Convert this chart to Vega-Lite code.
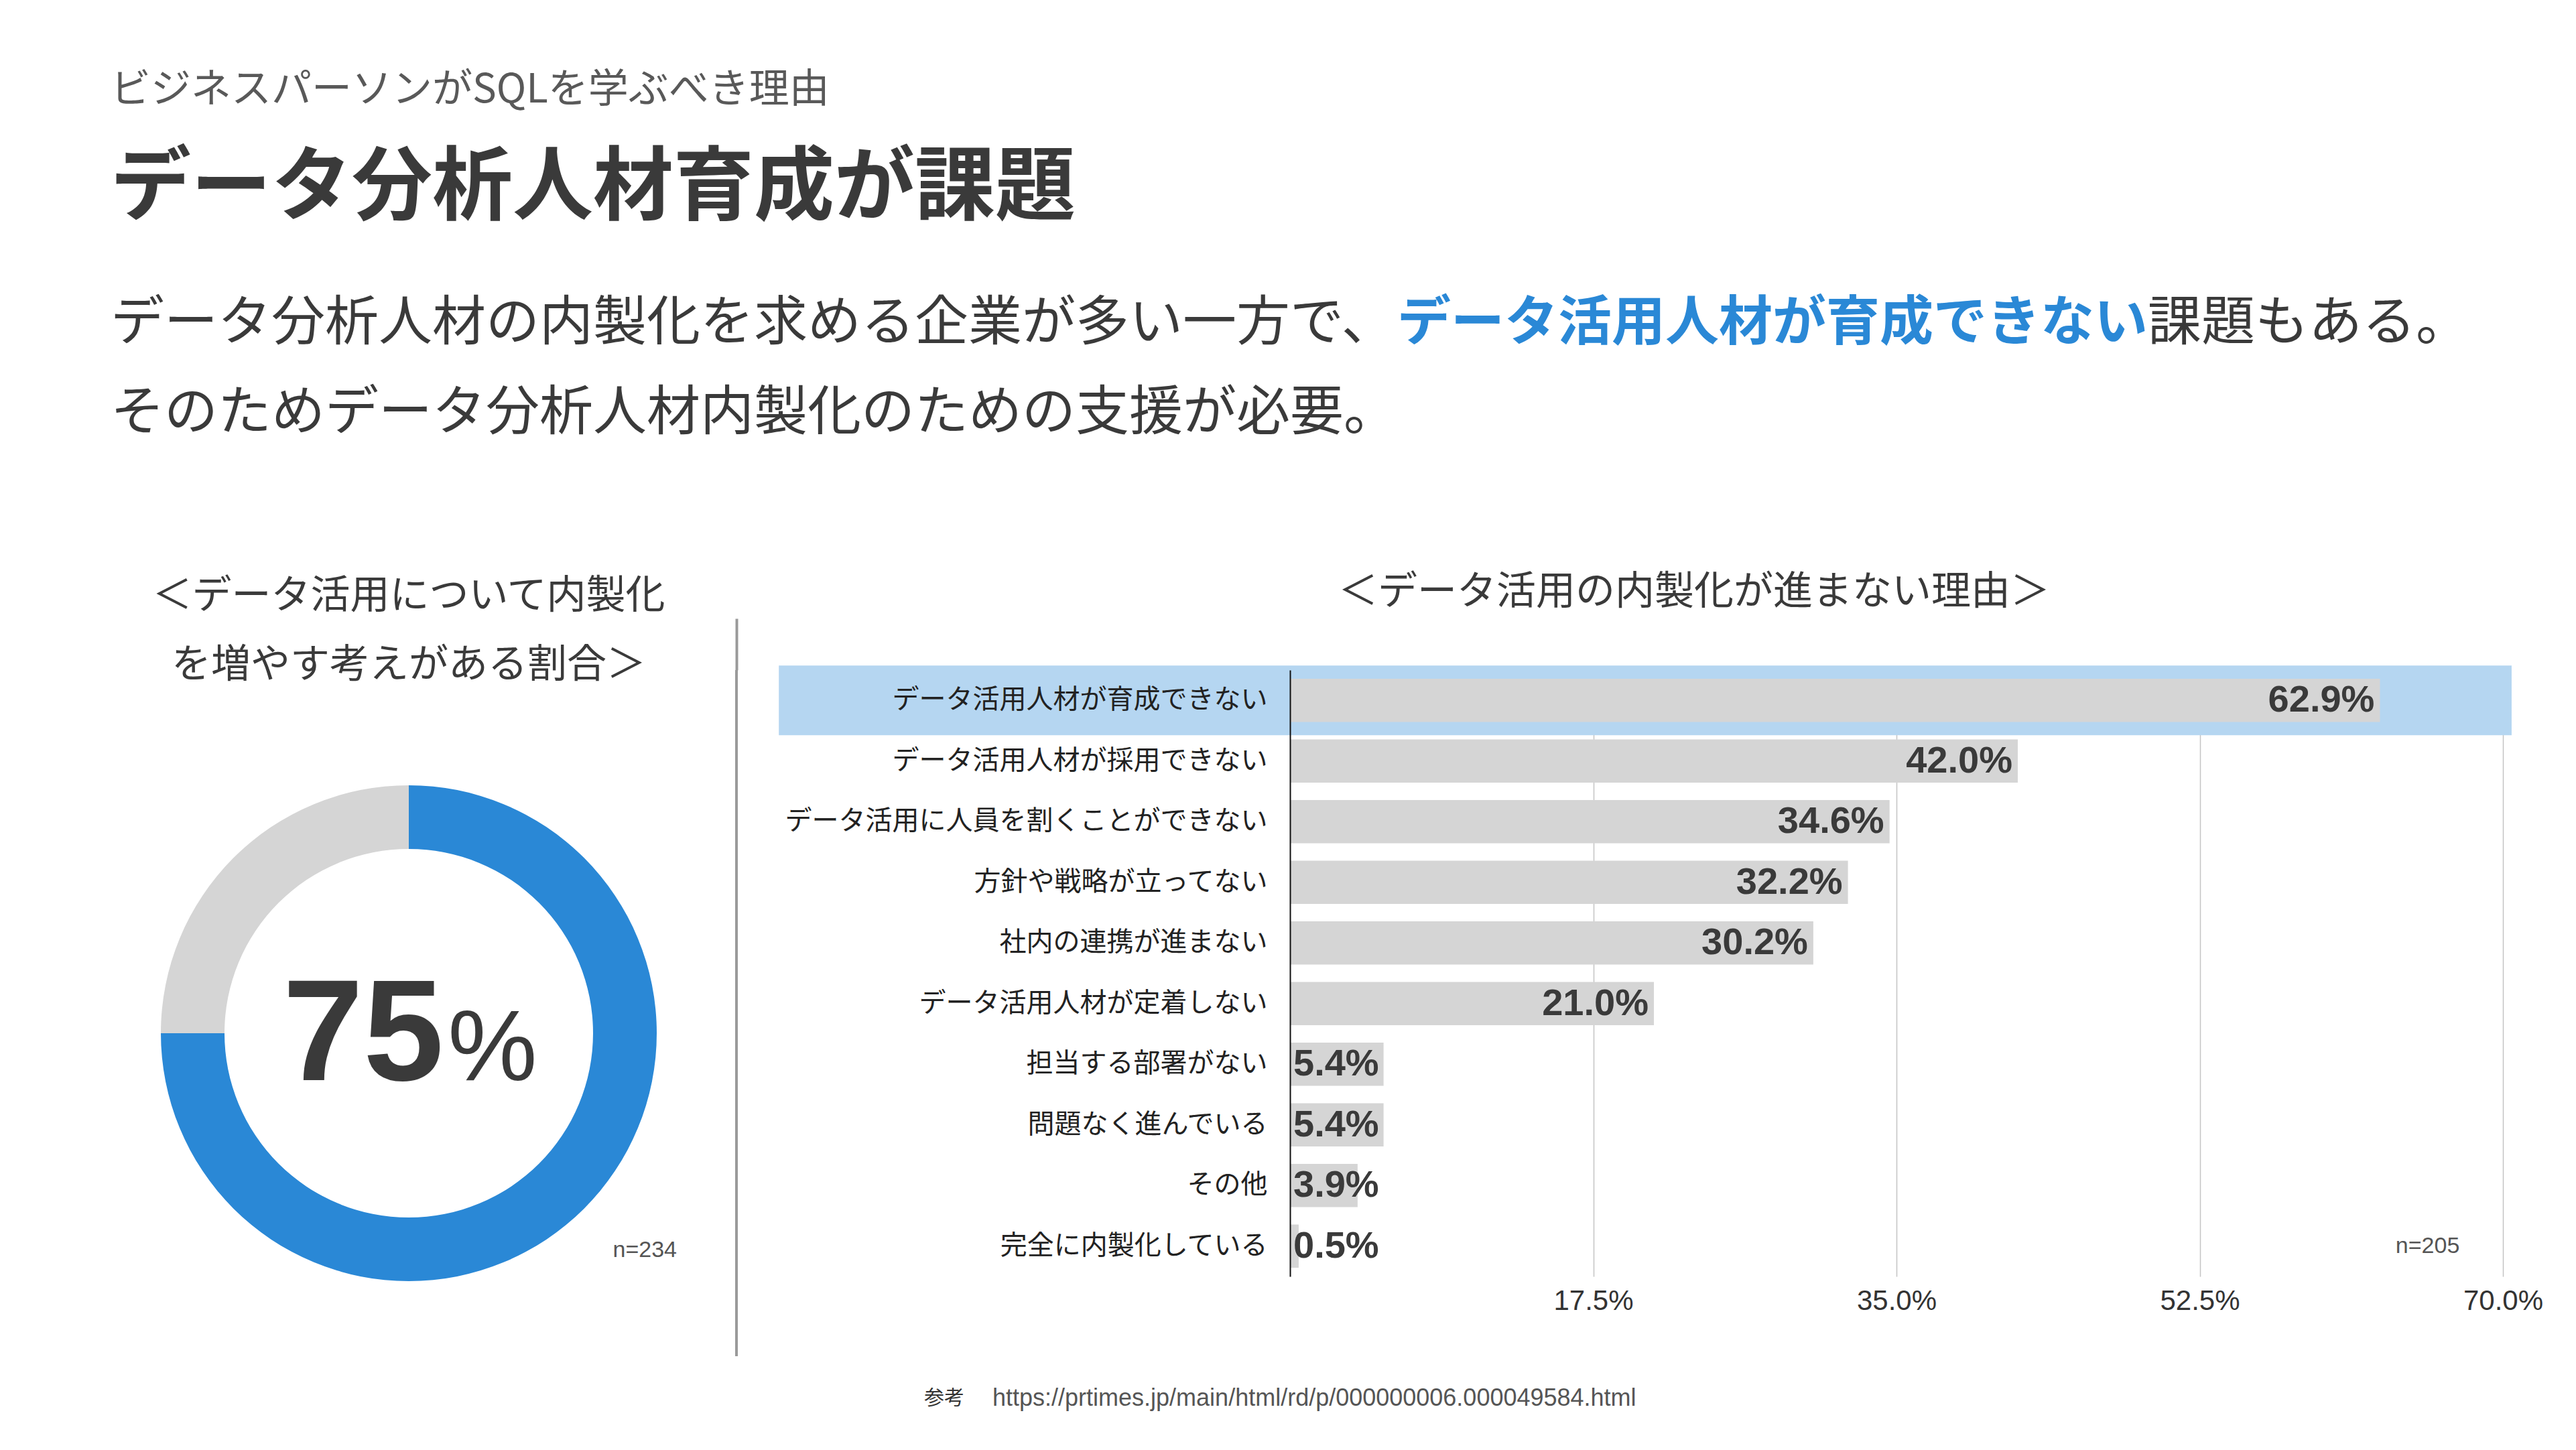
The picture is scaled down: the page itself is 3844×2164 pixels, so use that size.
{
  "$schema": "https://vega.github.io/schema/vega-lite/v6.json",
  "background": "#ffffff",
  "padding": {"left": 165, "top": 105, "right": 0, "bottom": 0},
  "config": {
    "view": {"stroke": null},
    "font": "Noto Sans CJK JP"
  },
  "title": {
    "text": "ビジネスパーソンがSQLを学ぶべき理由",
    "subtitle": "データ分析人材育成が課題",
    "anchor": "start",
    "frame": "group",
    "font": "Noto Sans CJK JP",
    "fontSize": 60,
    "fontWeight": "normal",
    "color": "#595959",
    "subtitleFont": "Noto Sans CJK JP",
    "subtitleFontSize": 120,
    "subtitleFontWeight": "bold",
    "subtitleColor": "#3a3a3a",
    "subtitlePadding": 58,
    "offset": 72
  },
  "spacing": 171,
  "vconcat": [
    {
      "width": 3480,
      "height": 268,
      "data": {
        "values": [
          {"line": 1, "segment": "head", "text": "データ分析人材の内製化を求める企業が多い一方で、"},
          {"line": 1, "segment": "emphasis", "text": "データ活用人材が育成できない"},
          {"line": 1, "segment": "tail", "text": "課題もある。"},
          {"line": 2, "segment": "head", "text": "そのためデータ分析人材内製化のための支援が必要。"}
        ]
      },
      "encoding": {
        "y": {"field": "line", "type": "ordinal", "axis": null, "scale": {"type": "point", "padding": 0.5}},
        "text": {"field": "text"}
      },
      "layer": [
        {
          "transform": [{"filter": "datum.segment === 'head'"}],
          "mark": {"type": "text", "align": "left", "baseline": "middle", "fontSize": 80, "color": "#3a3a3a", "font": "Noto Sans CJK JP"},
          "encoding": {"x": {"datum": 0, "type": "quantitative", "scale": {"domain": [0, 43.5], "nice": false, "zero": false}, "axis": null}}
        },
        {
          "transform": [{"filter": "datum.segment === 'emphasis'"}],
          "mark": {"type": "text", "align": "left", "baseline": "middle", "fontSize": 80, "fontWeight": "bold", "color": "#2a88d6", "font": "Noto Sans CJK JP"},
          "encoding": {"x": {"datum": 24, "type": "quantitative", "axis": null}}
        },
        {
          "transform": [{"filter": "datum.segment === 'tail'"}],
          "mark": {"type": "text", "align": "left", "baseline": "middle", "fontSize": 80, "color": "#3a3a3a", "font": "Noto Sans CJK JP"},
          "encoding": {"x": {"datum": 38, "type": "quantitative", "axis": null}}
        }
      ]
    },
    {
      "spacing": 41,
      "vconcat": [
        {
          "spacing": 42,
          "hconcat": [
            {
              "width": 890,
              "height": 1024,
              "title": {
                "text": ["＜データ活用について内製化", "を増やす考えがある割合＞"],
                "anchor": "middle",
                "font": "Noto Sans CJK JP",
                "fontSize": 59,
                "fontWeight": "normal",
                "lineHeight": 103,
                "baseline": "bottom",
                "color": "#3a3a3a",
                "offset": -82
              },
              "data": {
                "values": [
                  {"answer": "増やす考えがある", "value": 75},
                  {"answer": "それ以外", "value": 25}
                ]
              },
              "layer": [
                {
                  "mark": {"type": "arc", "innerRadius": 275, "outerRadius": 370, "yOffset": 30},
                  "encoding": {
                    "theta": {"field": "value", "type": "quantitative", "stack": true},
                    "color": {
                      "field": "answer",
                      "type": "nominal",
                      "scale": {"domain": ["増やす考えがある", "それ以外"], "range": ["#2a88d6", "#d5d5d5"]},
                      "legend": null
                    },
                    "order": {"field": "value", "type": "quantitative", "sort": "descending"}
                  }
                },
                {
                  "transform": [{"filter": "datum.answer === '増やす考えがある'"}],
                  "mark": {"type": "text", "align": "center", "baseline": "alphabetic", "dx": -68, "dy": 100, "font": "Liberation Sans", "fontWeight": "bold", "fontSize": 216, "color": "#3a3a3a"},
                  "encoding": {"text": {"field": "value", "type": "quantitative", "format": "d"}}
                },
                {
                  "transform": [{"filter": "datum.answer === '増やす考えがある'"}],
                  "mark": {"type": "text", "text": "%", "align": "center", "baseline": "alphabetic", "dx": 125, "dy": 100, "font": "Liberation Sans", "fontSize": 150, "color": "#3a3a3a"},
                  "encoding": {}
                },
                {
                  "transform": [{"filter": "datum.answer === '増やす考えがある'"}],
                  "mark": {"type": "text", "text": "n=234", "align": "right", "baseline": "middle", "dx": 400, "dy": 354, "font": "Liberation Sans", "fontSize": 34, "color": "#555555"},
                  "encoding": {}
                }
              ]
            },
            {
              "width": 4,
              "height": 1024,
              "data": {"values": [{}]},
              "mark": {"type": "rule", "color": "#9a9a9a", "strokeWidth": 4},
              "encoding": {
                "x": {
                  "datum": 0.5,
                  "type": "quantitative",
                  "scale": {"domain": [0, 1]},
                  "axis": {"orient": "top", "values": [0.5], "labels": false, "domain": false, "ticks": true, "tickSize": 77, "tickWidth": 4, "tickColor": "#9a9a9a", "grid": false, "title": null}
                }
              }
            },
            {
              "width": 1810,
              "height": 905,
              "title": {
                "text": "＜データ活用の内製化が進まない理由＞",
                "anchor": "start",
                "frame": "group",
                "dx": 72,
                "font": "Noto Sans CJK JP",
                "fontSize": 59,
                "fontWeight": "normal",
                "baseline": "bottom",
                "color": "#3a3a3a",
                "offset": 20
              },
              "data": {
                "values": [
                  {"reason": "データ活用人材が育成できない", "value": 0.629},
                  {"reason": "データ活用人材が採用できない", "value": 0.420},
                  {"reason": "データ活用に人員を割くことができない", "value": 0.346},
                  {"reason": "方針や戦略が立ってない", "value": 0.322},
                  {"reason": "社内の連携が進まない", "value": 0.302},
                  {"reason": "データ活用人材が定着しない", "value": 0.210},
                  {"reason": "担当する部署がない", "value": 0.054},
                  {"reason": "問題なく進んでいる", "value": 0.054},
                  {"reason": "その他", "value": 0.039},
                  {"reason": "完全に内製化している", "value": 0.005}
                ]
              },
              "encoding": {
                "y": {
                  "field": "reason",
                  "type": "nominal",
                  "sort": ["データ活用人材が育成できない", "データ活用人材が採用できない", "データ活用に人員を割くことができない", "方針や戦略が立ってない", "社内の連携が進まない", "データ活用人材が定着しない", "担当する部署がない", "問題なく進んでいる", "その他", "完全に内製化している"],
                  "scale": {"paddingInner": 0.29, "paddingOuter": 0.145},
                  "axis": {
                    "title": null,
                    "ticks": false,
                    "domain": true,
                    "domainColor": "#111111",
                    "domainWidth": 2,
                    "grid": false,
                    "labelFont": "Noto Sans CJK JP",
                    "labelFontSize": 40,
                    "labelColor": "#222222",
                    "labelPadding": 34,
                    "labelLimit": 900,
                    "minExtent": 782,
                    "zindex": 1
                  }
                }
              },
              "layer": [
                {
                  "transform": [{"filter": "datum.reason === 'データ活用人材が育成できない'"}],
                  "mark": {"type": "bar", "color": "#b5d6f1", "height": {"band": 1.62}},
                  "encoding": {
                    "x": {"datum": -0.295, "type": "quantitative", "title": null},
                    "x2": {"datum": 0.705}
                  }
                },
                {
                  "mark": {"type": "bar", "color": "#d5d5d5"},
                  "encoding": {
                    "x": {
                      "field": "value",
                      "type": "quantitative",
                      "title": null,
                      "scale": {"domain": [0, 0.7]},
                      "axis": {
                        "values": [0.175, 0.35, 0.525, 0.7],
                        "format": ".1%",
                        "grid": true,
                        "gridColor": "#c4c4c4",
                        "gridWidth": 1.5,
                        "domain": false,
                        "ticks": false,
                        "labelFont": "Liberation Sans",
                        "labelFontSize": 42,
                        "labelColor": "#333333",
                        "labelPadding": 16,
                        "labelFlush": false
                      }
                    }
                  }
                },
                {
                  "transform": [{"filter": "datum.value >= 0.1"}],
                  "mark": {"type": "text", "align": "right", "baseline": "middle", "dx": -8, "font": "Liberation Sans", "fontWeight": "bold", "fontSize": 56, "color": "#3a3a3a"},
                  "encoding": {
                    "x": {"field": "value", "type": "quantitative", "title": null},
                    "text": {"field": "value", "type": "quantitative", "format": ".1%"}
                  }
                },
                {
                  "transform": [{"filter": "datum.value < 0.1"}],
                  "mark": {"type": "text", "align": "left", "baseline": "middle", "dx": 5, "font": "Liberation Sans", "fontWeight": "bold", "fontSize": 56, "color": "#3a3a3a"},
                  "encoding": {
                    "x": {"datum": 0, "type": "quantitative", "title": null},
                    "text": {"field": "value", "type": "quantitative", "format": ".1%"}
                  }
                },
                {
                  "transform": [{"filter": "datum.reason === '完全に内製化している'"}],
                  "mark": {"type": "text", "text": "n=205", "align": "right", "baseline": "middle", "font": "Liberation Sans", "fontSize": 34, "color": "#555555"},
                  "encoding": {
                    "x": {"datum": 0.675, "type": "quantitative", "title": null}
                  }
                }
              ]
            }
          ]
        },
        {
          "width": 2590,
          "height": 40,
          "data": {"values": [{"label": "参考", "url": "https://prtimes.jp/main/html/rd/p/000000006.000049584.html"}]},
          "layer": [
            {
              "mark": {"type": "text", "align": "right", "baseline": "middle", "dx": -21, "font": "Noto Sans CJK JP", "fontSize": 30, "color": "#333333"},
              "encoding": {"text": {"field": "label"}}
            },
            {
              "mark": {"type": "text", "align": "left", "baseline": "middle", "dx": 21, "font": "Liberation Sans", "fontSize": 36, "color": "#555555"},
              "encoding": {"text": {"field": "url"}}
            }
          ]
        }
      ]
    }
  ]
}
